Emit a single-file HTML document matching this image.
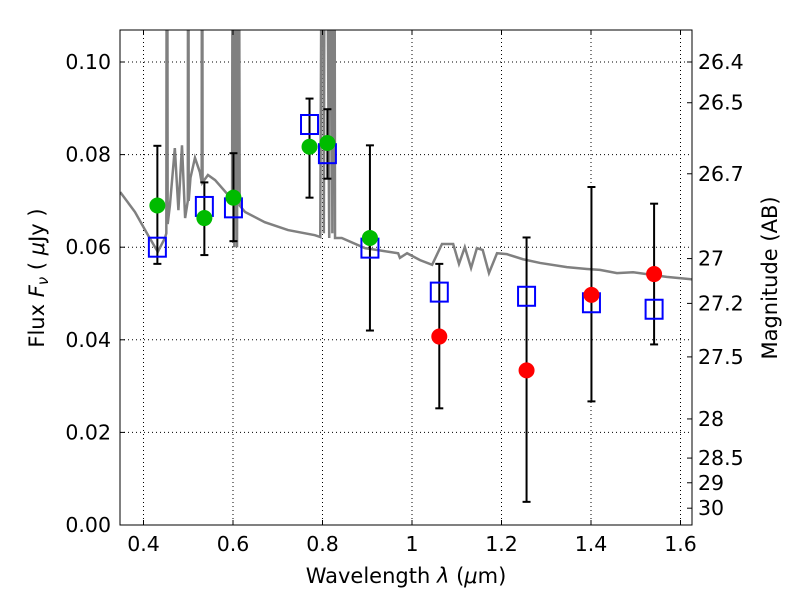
<!DOCTYPE html>
<html><head><meta charset="utf-8"><style>
body{margin:0;background:#fff}
svg{display:block;font-family:"DejaVu Sans","Liberation Sans",sans-serif}
</style></head><body>
<svg id="chart" width="800" height="600" viewBox="0 0 800 600">
<defs><clipPath id="clip"><rect x="120" y="30" width="572" height="495"/></clipPath></defs>
<rect x="0" y="0" width="800" height="600" fill="#fff"/>
<g id="grid"></g>
<g id="spec" clip-path="url(#clip)"></g>
<g id="marks"></g>
<rect x="120" y="30" width="572" height="495" fill="none" stroke="#000" stroke-width="1"/>
<g id="axes"></g>
<text x="406" y="583" font-size="21" text-anchor="middle">Wavelength  <tspan font-style="italic">λ</tspan> (<tspan font-style="italic">μ</tspan>m)</text>
<text transform="translate(44,278) rotate(-90)" font-size="21" text-anchor="middle">Flux  <tspan font-style="italic">F<tspan font-size="15" dy="4">ν</tspan></tspan><tspan dy="-4">  ( </tspan><tspan font-style="italic">μ</tspan>Jy )</text>
<text transform="translate(777,278) rotate(-90)" font-size="21" text-anchor="middle">Magnitude (AB)</text>
</svg>
<script>
const xTicks=[0.4,0.6,0.8,1.0,1.2,1.4,1.6];
const xTickLabels=["0.4","0.6","0.8","1","1.2","1.4","1.6"];
const yTicks=[0,0.02,0.04,0.06,0.08,0.10];
const yTickLabels=["0.00","0.02","0.04","0.06","0.08","0.10"];
const magTicks=[26.4,26.5,26.7,27,27.2,27.5,28,28.5,29,30];
const magLabels=["26.4","26.5","26.7","27","27.2","27.5","28","28.5","29","30"];
const lamObs=[0.431,0.536,0.601,0.771,0.811,0.906,1.061,1.256,1.401,1.541];
const fluxObs=[0.069,0.0663,0.0707,0.0817,0.0825,0.062,0.0407,0.0334,0.0497,0.0542];
const errLo=[0.0564,0.0583,0.0613,0.0707,0.0748,0.0420,0.0252,0.0050,0.0267,0.0390];
const errHi=[0.0819,0.0740,0.0803,0.0921,0.0898,0.0820,0.0564,0.0621,0.0730,0.0694];
const obsColor=["g","g","g","g","g","g","r","r","r","r"];
const fluxModel=[0.060,0.0688,0.0685,0.0865,0.0802,0.0598,0.0503,0.0494,0.048,0.0466];
const specLam=[0.348,0.381,0.410,0.432,0.448,0.451,0.4525,0.454,0.459,0.47,0.478,0.486,0.493,0.499,0.500,0.501,0.505,0.515,0.526,0.530,0.531,0.532,0.544,0.56,0.589,0.598,0.600,0.603,0.606,0.609,0.612,0.615,0.627,0.671,0.723,0.783,0.795,0.801,0.803,0.806,0.815,0.818,0.822,0.826,0.828,0.843,0.895,0.969,0.973,0.989,1.018,1.045,1.067,1.092,1.105,1.118,1.132,1.145,1.158,1.172,1.19,1.212,1.248,1.286,1.346,1.391,1.42,1.458,1.494,1.569,1.621,1.63];
const specFlux=[0.0719,0.0676,0.0626,0.059,0.062,0.063,0.2,0.065,0.069,0.0814,0.068,0.082,0.0663,0.07,0.2,0.07,0.075,0.0793,0.0762,0.074,0.2,0.074,0.0756,0.0745,0.0713,0.07,0.2,0.06,0.2,0.06,0.2,0.069,0.0676,0.0654,0.0637,0.0626,0.0622,0.2,0.063,0.2,0.062,0.2,0.063,0.2,0.062,0.062,0.0598,0.0587,0.0577,0.0587,0.0572,0.0562,0.0607,0.0607,0.0564,0.06,0.0555,0.0598,0.0594,0.0544,0.0587,0.0585,0.0574,0.0566,0.0557,0.0553,0.0551,0.0544,0.0546,0.0536,0.0531,0.053];
const NS="http://www.w3.org/2000/svg";
const X=l=>143.5+(l-0.4)*447.5;
const Y=f=>525-f*4630;
const magY=m=>Y(Math.pow(10,(23.9-m)/2.5));
function mk(t,a,p){const e=document.createElementNS(NS,t);for(const k in a)e.setAttribute(k,a[k]);p.appendChild(e);return e;}
const grid=document.getElementById('grid'),axes=document.getElementById('axes'),spec=document.getElementById('spec'),marks=document.getElementById('marks');
xTicks.forEach((v,i)=>{const x=X(v);
 const g=mk('line',{x1:x,x2:x,y1:30,y2:525,stroke:'#000','stroke-dasharray':'1,3','stroke-width':1},grid);
 
 mk('line',{x1:x,x2:x,y1:525,y2:520,stroke:'#000'},axes);mk('line',{x1:x,x2:x,y1:30,y2:35,stroke:'#000'},axes);
 const t=mk('text',{x:x,y:551,'font-size':20.5,'text-anchor':'middle'},axes);t.textContent=xTickLabels[i];
 });
yTicks.forEach((v,i)=>{const y=Y(v);
 const g=mk('line',{x1:120,x2:692,y1:y,y2:y,stroke:'#000','stroke-dasharray':'1,3','stroke-width':1},grid);
 
 mk('line',{x1:120,x2:125,y1:y,y2:y,stroke:'#000'},axes);
 const t=mk('text',{x:111,y:y+7,'font-size':20.5,'text-anchor':'end'},axes);t.textContent=yTickLabels[i];
 });
magTicks.forEach((m,i)=>{const y=magY(m);
 mk('line',{x1:687,x2:692,y1:y,y2:y,stroke:'#000'},axes);
 const t=mk('text',{x:698,y:y+7,'font-size':20.5},axes);t.textContent=magLabels[i];
 });
const pl=mk('polyline',{points:specLam.map((l,i)=>X(l)+','+Y(specFlux[i])).join(' '),fill:'none',stroke:'#808080','stroke-width':2.5},spec);

lamObs.forEach((l,i)=>{const x=X(l);
 const e=mk('g',{},marks);
 mk('line',{x1:x,x2:x,y1:Y(errLo[i]),y2:Y(errHi[i]),stroke:'#000','stroke-width':2},e);
 mk('line',{x1:x-4,x2:x+4,y1:Y(errLo[i]),y2:Y(errLo[i]),stroke:'#000','stroke-width':2},e);
 mk('line',{x1:x-4,x2:x+4,y1:Y(errHi[i]),y2:Y(errHi[i]),stroke:'#000','stroke-width':2},e);
 const s=mk('rect',{x:x-8.5,y:Y(fluxModel[i])-9.5,width:17,height:19,fill:'none',stroke:'#0000ff','stroke-width':2},marks);
 
});
lamObs.forEach((l,i)=>{
 const c=mk('circle',{cx:X(l),cy:Y(fluxObs[i]),r:8,fill:obsColor[i]=='g'?'#00bb00':'#ff0000'},marks);
 
});
</script>
</body></html>
